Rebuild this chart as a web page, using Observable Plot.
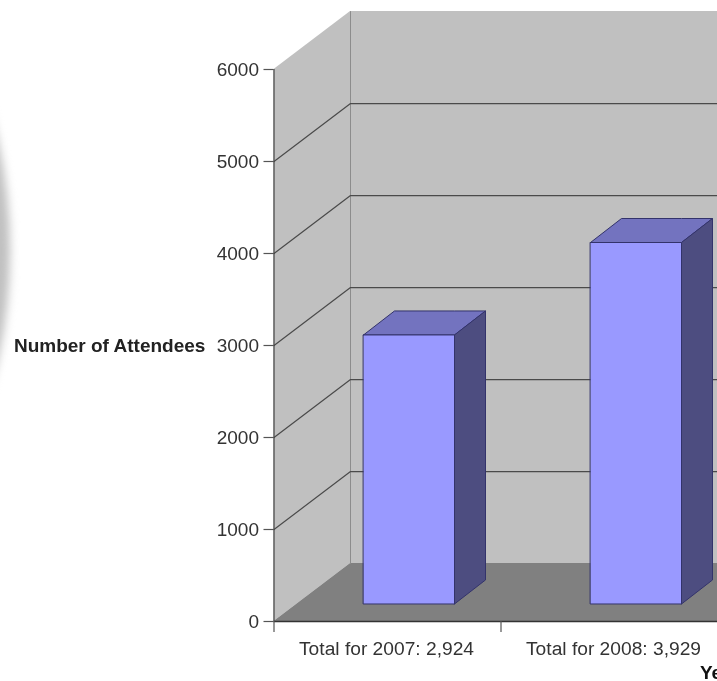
<!DOCTYPE html>
<html>
<head>
<meta charset="utf-8">
<script src="https://cdn.jsdelivr.net/npm/d3@7"></script>
<script src="https://cdn.jsdelivr.net/npm/@observablehq/plot@0.6"></script>
<style>
html,body{margin:0;padding:0;background:#fff;overflow:hidden}
#wrap{position:relative;width:717px;height:681px;overflow:hidden}
#glow{position:absolute;left:-290px;top:-28px;width:300px;height:556px;border-radius:50%;background:#c0c0c0;filter:blur(5px)}
#chart{position:absolute;left:0;top:0}
#chart svg{filter:blur(.55px);display:block}
</style>
</head>
<body>
<div id="wrap"><div id="glow"></div><div id="chart"></div></div>
<script>
const categories = ["Total for 2007: 2,924", "Total for 2008: 3,929"];
const attendees = [2924, 3929];
const yTicks = [0, 1000, 2000, 3000, 4000, 5000, 6000];
const yLabel = "Number of Attendees";
const xLabel = "Year";

// 3D projection, in scale units (x: one category = 1; y: attendees)
const xMax = 443.5 / 227, wallDx = 76.5 / 227, wallDy = 630;
const barW = 91 / 227, barOx = 22 / 227, barOy = 185, barDx = 31 / 227, barDy = 261;
const yMax = 6000;

const face = (pts, opts) => Plot.area(pts.map(([x, y1, y2]) => ({x, y1, y2})), {x1: "x", y1: "y1", y2: "y2", curve: "linear", ...opts});

const barMarks = attendees.flatMap((v, i) => {
  const x0 = i + 0.5 - barW / 2 + barOx, x1 = x0 + barW, top = v + barOy;
  const edge = {stroke: "#33336b", strokeWidth: 1};
  return [
    face([[x0, top, top], [x0 + barDx, top, top + barDy], [x1, top, top + barDy], [x1 + barDx, top + barDy, top + barDy]], {fill: "#7373bf", ...edge}),
    face([[x1, barOy, top], [x1 + barDx, barOy + barDy, top + barDy]], {fill: "#4d4d80", ...edge}),
    face([[x0, barOy, top], [x1, barOy, top]], {fill: "#9999ff", ...edge})
  ];
});

const gridLines = yTicks.filter(t => t > 0 && t < yMax).map(t =>
  Plot.line([[0, t], [wallDx, t + wallDy], [xMax, t + wallDy]], {stroke: "#4a4a4a", strokeWidth: 1.2})
);

const plot = Plot.plot({
  width: 717, height: 681,
  marginLeft: 273.5, marginRight: 0, marginTop: 69, marginBottom: 60,
  style: {background: "transparent", fontFamily: "'Liberation Sans', Arial, sans-serif"},
  x: {domain: [0, xMax]},
  y: {domain: [0, yMax]},
  marks: [
    face([[0, 0, yMax], [wallDx, wallDy, yMax + wallDy]], {fill: "#c0c0c0"}),
    face([[wallDx, wallDy, yMax + wallDy], [xMax, wallDy, yMax + wallDy]], {fill: "#c0c0c0"}),
    face([[0, 0, 0], [wallDx, 0, wallDy], [xMax, 0, wallDy]], {fill: "#808080"}),
    Plot.line([[wallDx, wallDy], [wallDx, yMax + wallDy]], {stroke: "#8c8c8c", strokeWidth: 1}),
    ...gridLines,
    ...barMarks,
    Plot.axisY({ticks: yTicks, tickSize: 10, tickPadding: 5, tickFormat: d => String(d), fontSize: 19, color: "#333", stroke: "#555", strokeWidth: 1.2, label: null}),
    Plot.ruleX([0], {y1: 0, y2: yMax, stroke: "#444", strokeWidth: 1.2}),
    Plot.ruleY([0], {stroke: "#333", strokeWidth: 1.3}),
    Plot.ruleX(categories.map((c, i) => i), {y1: 0, y2: -120, stroke: "#555", strokeWidth: 1.2}),
    Plot.axisX({ticks: categories.map((c, i) => i + 0.5), tickFormat: d => categories[Math.floor(d)], tickSize: 0, tickPadding: 20, fontSize: 19.2, color: "#333", dx: -1, label: null}),
    Plot.text([yLabel], {x: -0.724, y: 3000, text: d => d, textAnchor: "middle", fontSize: 19, fontWeight: "bold", fill: "#222"}),
    Plot.text([xLabel], {x: 426 / 227, y: -555, text: d => d, textAnchor: "start", fontSize: 19, fontWeight: "bold", fill: "#111"})
  ]
});
document.getElementById("chart").append(plot);
</script>
</body>
</html>
